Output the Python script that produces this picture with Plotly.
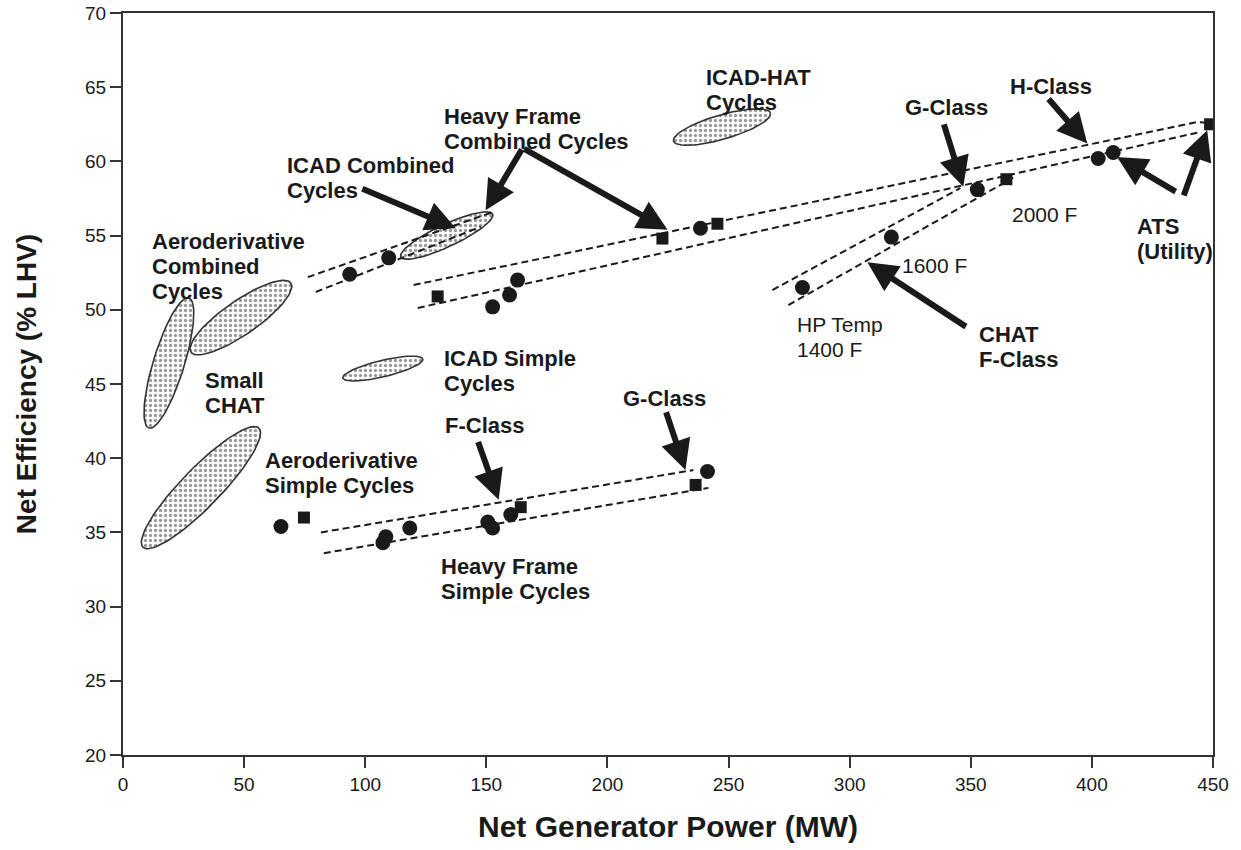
import numpy as np
import plotly.graph_objects as go

# ---------------- data ----------------
circle_x = [93.6, 109.7, 152.6, 159.6, 162.9, 238.4, 352.7, 402.6, 408.8, 280.5, 317.2,
            65.2, 107.3, 108.5, 118.4, 150.6, 152.6, 160.1, 241.3]
circle_y = [52.4, 53.5, 50.2, 51.0, 52.0, 55.5, 58.1, 60.2, 60.6, 51.5, 54.9,
            35.4, 34.3, 34.7, 35.3, 35.7, 35.3, 36.2, 39.1]
square_x = [129.9, 222.7, 245.4, 364.7, 448.8, 74.7, 164.2, 236.4]
square_y = [50.9, 54.8, 55.8, 58.8, 62.5, 36.0, 36.7, 38.2]

# dashed trend lines (x list, y list)
hf_cc_upper_x = [120.0, 443.4, 448.8]
hf_cc_upper_y = [51.67, 62.65, 62.6]
hf_cc_lower_x = [121.7, 444.7]
hf_cc_lower_y = [50.12, 61.98]
aero_cc_upper_x = [76.3, 152.9]
aero_cc_upper_y = [52.2, 56.6]
aero_cc_lower_x = [79.6, 147.7]
aero_cc_lower_y = [51.2, 55.6]
chat_upper_x = [268.1, 345.7]
chat_upper_y = [51.33, 58.2]
chat_lower_x = [274.7, 367.5]
chat_lower_y = [50.32, 58.9]
hf_sc_upper_x = [81.7, 235.5]
hf_sc_upper_y = [35.0, 39.2]
hf_sc_lower_x = [82.9, 241.7]
hf_sc_lower_y = [33.6, 38.0]

# shaded regions: major-axis end points and half width (in MW units)
region_names = ["Aero CC", "Small CHAT", "Aero SC", "ICAD SC", "ICAD CC", "ICAD-HAT"]
region_x1 = [28.05, 27.2, 56.1, 90.75, 114.7, 227.3]
region_y1 = [47.15, 50.8, 42.03, 45.4, 53.56, 61.37]
region_x2 = [69.3, 10.7, 8.25, 123.75, 152.6, 267.3]
region_y2 = [51.8, 42.03, 34.0, 46.68, 56.45, 63.26]
region_hw = [7.0, 6.4, 8.0, 3.4, 4.6, 5.0]

# arrows: tail -> head
arrow_tail_x = [98.2, 165.0, 165.0, 338.7, 381.6, 435.2, 437.7, 348.6, 146.4, 224.0]
arrow_tail_y = [58.2, 60.9, 60.9, 62.6, 64.3, 57.9, 57.6, 48.8, 41.2, 43.2]
arrow_head_x = [137.4, 149.7, 224.8, 346.9, 398.1, 410.4, 447.6, 307.3, 155.1, 232.2]
arrow_head_y = [55.5, 56.7, 55.4, 58.3, 61.2, 60.3, 62.1, 53.2, 37.2, 39.2]

# text labels: list of lines, top-left anchor of first line
label_lines = [["Aeroderivative", "Combined", "Cycles"], ["ICAD Combined", "Cycles"],
               ["Heavy Frame", "Combined Cycles"], ["ICAD-HAT", "Cycles"], ["G-Class"], ["H-Class"],
               ["CHAT", "F-Class"], ["ATS", "(Utility)"], ["Small", "CHAT"], ["ICAD Simple", "Cycles"],
               ["Aeroderivative", "Simple Cycles"], ["F-Class"], ["G-Class"],
               ["Heavy Frame", "Simple Cycles"]]
label_x = [11.1, 66.8, 131.9, 239.7, 322.2, 365.5, 352.7, 417.9, 33.0, 131.6, 57.75, 132.0, 205.4, 130.4]
label_y = [55.6, 60.7, 64.0, 66.6, 64.6, 66.0, 49.3, 56.6, 46.2, 47.7, 40.85, 43.2, 45.0, 33.7]

temp_lines = [["2000 F"], ["1600 F"], ["HP Temp", "1400 F"]]
temp_x = [366.3, 320.9, 277.6]
temp_y = [57.3, 53.9, 49.9]

x_ticks = [0, 50, 100, 150, 200, 250, 300, 350, 400, 450]
y_ticks = [20, 25, 30, 35, 40, 45, 50, 55, 60, 65, 70]

# ---------------- figure ----------------
INK = "#1a1a1a"
FONT = "Liberation Sans"
LINE_STEP = 1.68  # vertical spacing of label lines (% units)
fig = go.Figure()

K = 6.12  # pixels per % / pixels per MW
t = np.linspace(0, 2 * np.pi, 80)
for i in range(len(region_names)):
    x1, y1 = region_x1[i], region_y1[i] * K
    x2, y2 = region_x2[i], region_y2[i] * K
    cx, cy = (x1 + x2) / 2, (y1 + y2) / 2
    a = np.hypot(x2 - x1, y2 - y1) / 2
    th = np.arctan2(y2 - y1, x2 - x1)
    b = region_hw[i]
    ex = cx + a * np.cos(t) * np.cos(th) - b * np.sin(t) * np.sin(th)
    ey = cy + a * np.cos(t) * np.sin(th) + b * np.sin(t) * np.cos(th)
    fig.add_trace(go.Scatter(x=ex, y=ey / K, mode="lines", fill="toself",
                             fillcolor="white",
                             fillpattern=dict(shape=".", fgcolor="#333", bgcolor="white",
                                              size=5, solidity=0.35),
                             line=dict(color="#333", width=1.6),
                             hoverinfo="skip", showlegend=False))

for lx, ly in [(hf_cc_upper_x, hf_cc_upper_y), (hf_cc_lower_x, hf_cc_lower_y),
               (aero_cc_upper_x, aero_cc_upper_y), (aero_cc_lower_x, aero_cc_lower_y),
               (chat_upper_x, chat_upper_y), (chat_lower_x, chat_lower_y),
               (hf_sc_upper_x, hf_sc_upper_y), (hf_sc_lower_x, hf_sc_lower_y)]:
    fig.add_trace(go.Scatter(x=lx, y=ly, mode="lines",
                             line=dict(color=INK, width=2, dash="7px,4px"),
                             hoverinfo="skip", showlegend=False))

fig.add_trace(go.Scatter(x=circle_x, y=circle_y, mode="markers",
                         marker=dict(symbol="circle", size=15, color=INK),
                         showlegend=False))
fig.add_trace(go.Scatter(x=square_x, y=square_y, mode="markers",
                         marker=dict(symbol="square", size=12, color=INK),
                         showlegend=False))

for i in range(len(arrow_tail_x)):
    fig.add_annotation(x=arrow_head_x[i], y=arrow_head_y[i], ax=arrow_tail_x[i], ay=arrow_tail_y[i],
                       xref="x", yref="y", axref="x", ayref="y", text="",
                       showarrow=True, arrowhead=2, arrowsize=1.0, arrowwidth=6,
                       arrowcolor=INK)

for i in range(len(label_lines)):
    for j, line in enumerate(label_lines[i]):
        fig.add_annotation(x=label_x[i], y=label_y[i] - j * LINE_STEP, text="<b>" + line + "</b>",
                           xref="x", yref="y", showarrow=False, xanchor="left", yanchor="top",
                           align="left", font=dict(family=FONT, size=22, color=INK))

for i in range(len(temp_lines)):
    for j, line in enumerate(temp_lines[i]):
        fig.add_annotation(x=temp_x[i], y=temp_y[i] - j * LINE_STEP, text=line,
                           xref="x", yref="y", showarrow=False, xanchor="left", yanchor="top",
                           align="left", font=dict(family=FONT, size=21, color=INK))

fig.update_layout(
    width=1241, height=850,
    margin=dict(l=123, r=28, t=13, b=95),
    paper_bgcolor="white", plot_bgcolor="white",
    font=dict(family=FONT, color=INK),
    xaxis=dict(range=[0, 450], tickvals=x_ticks, ticks="outside", ticklen=11, tickwidth=2,
               tickcolor="#333", showline=True, linecolor="#333", linewidth=2, mirror=True,
               showgrid=False, zeroline=False, automargin=False,
               tickfont=dict(size=19, family=FONT),
               title=dict(text="<b>Net Generator Power (MW)</b>", standoff=22,
                          font=dict(size=30, family=FONT))),
    yaxis=dict(range=[20, 70], tickvals=y_ticks, ticks="outside", ticklen=11, tickwidth=2,
               tickcolor="#333", showline=True, linecolor="#333", linewidth=2, mirror=True,
               showgrid=False, zeroline=False, automargin=False,
               tickfont=dict(size=19, family=FONT),
               title=dict(text="<b>Net Efficiency (% LHV)</b>", standoff=40,
                          font=dict(size=28, family=FONT))),
)

fig.write_html("out.html", config={"displayModeBar": False},
               post_script="document.body.style.margin='0';document.body.style.overflow='hidden';")
